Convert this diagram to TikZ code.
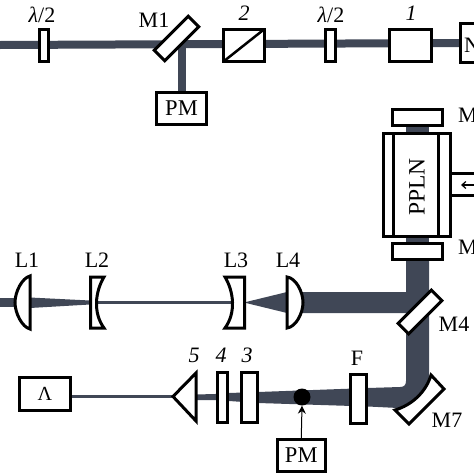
\documentclass[tikz,border=0pt]{standalone}
\usepackage{fontspec}
\setmainfont{Liberation Serif}
\usetikzlibrary{backgrounds,arrows.meta}
\definecolor{beamc}{HTML}{404756}
\tikzset{
 x=1pt,y=-1pt,
 bx/.style={draw=black,line width=3pt,fill=white,inner sep=0pt,outer sep=0pt,font=\fontsize{22.5}{22.5}\selectfont},
 optic/.style={draw=black,line width=3pt,fill=white,line join=miter},
 lbl/.style={inner sep=0pt,font=\fontsize{22}{22}\selectfont,text=black},
 num/.style={lbl,font=\fontsize{22}{22}\selectfont\itshape},
 beam/.style={draw=beamc,line cap=butt},
 beamfill/.style={fill=beamc},
}
\newcommand{\bxn}[6]{\node[bx,minimum width={(#4-#2-3)*1pt},minimum height={(#5-#3-3)*1pt}] (#1) at ({(#2+#4)/2},{(#3+#5)/2}) {#6};}
\begin{document}
\begin{tikzpicture}
\useasboundingbox (0,0) rectangle (474,474);
% top row
\bxn{wpa}{37.5}{27.5}{50}{63}{}
\bxn{cube}{222}{27.5}{266}{63}{}
\draw[line width=2.5pt] (cube.south west) -- (cube.north east);
\bxn{wpb}{324}{27.5}{337}{63}{}
\bxn{one}{388}{27.5}{433}{63}{}
\bxn{nbox}{458.5}{22}{490}{64}{}
\node[lbl] (ntext) at (472,45) {N};
\node[bx,rotate=45,minimum width=48pt,minimum height=15pt] (mone) at (176.5,38.5) {};
\bxn{pma}{155}{91}{208}{126}{PM}
\coordinate (start) at (0,45);
\coordinate (mtap) at (181.5,45);
% PPLN
\bxn{crystal}{381.5}{131.5}{451.5}{238}{}
\draw[line width=3pt] (393.5,132) -- (393.5,238) (438.5,132) -- (438.5,238);
\node[lbl,rotate=90,font=\fontsize{23.5}{23.5}\selectfont] (ppln) at (417,187) {PPLN};
\bxn{mtop}{390.5}{107.5}{443.5}{127}{}
\bxn{mbot}{390.5}{241.5}{443.5}{261}{}
\coordinate (portend) at (474,173);
\coordinate (portendb) at (474,195);
\coordinate (porta) at (451,173);
\coordinate (portb) at (451,195);
\draw[line width=3pt] (porta) -- (portend) (portb) -- (portendb);
\coordinate (arrowa) at (474,185);
\coordinate (arrowb) at (461,185);
\draw[line width=1.2pt,-{Straight Barb[length=4pt,width=7pt]}] (arrowa) -- (arrowb);
\node[lbl] (mlabelt) at (468,115) {M};
\node[lbl] (mlabelb) at (468,247) {M};
% lenses
\draw[optic] (30,276) -- (30,329) .. controls (22,327) and (15,313) .. (15,302.5) .. controls (15,292) and (22,278) .. (30,276) -- cycle;
\draw[optic] (90.5,277) -- (104,277) .. controls (95,292) and (93,313) .. (104,328) -- (90.5,328) -- cycle;
\draw[optic] (244.5,277) -- (225,277) .. controls (234,292) and (236,313) .. (225,328) -- (244.5,328) -- cycle;
\draw[optic] (287,277) -- (287,328) .. controls (296,327) and (303,313) .. (303,302.5) .. controls (303,292) and (296,278) .. (287,277) -- cycle;
\node[bx,rotate=45,minimum width=47pt,minimum height=15pt] (mfour) at (420,312) {};
% M7
\draw[optic] (431,375) -- (444,389) -- (409,424) -- (395,410) .. controls (412,405) and (426,392) .. (431,375) -- cycle;
% lower row
\bxn{lambda}{18}{376}{72}{412}{\raisebox{-1pt}{\fontsize{20}{20}\selectfont Λ}}
\draw[optic] (173,396.5) -- (196,373) -- (196,421) -- cycle;
\coordinate (prism) at (172,396.5);
\bxn{four}{215.5}{370.5}{229}{423.5}{}
\bxn{three}{239.5}{370.5}{258.5}{423.5}{}
\bxn{filt}{348.5}{372.5}{368}{424.5}{}
\node[circle,fill=black,minimum size=17pt,inner sep=0pt] (dot) at (302,397) {};
\bxn{pmb}{275.5}{437.5}{327}{473}{PM}
\draw[line width=1pt,-{Stealth[length=8pt,width=8pt]}] (pmb.north) -- (dot.south);
% labels
\node[lbl] (la) at (42,15) {\textit{λ}/2};
\node[lbl] (lb) at (331,15) {\textit{λ}/2};
\node[lbl] (mlab) at (154,20) {M1};
\node[num] (ntwo) at (244,13) {2};
\node[num] (none) at (411,13) {1};
\node[lbl] (lone) at (27,260) {L1};
\node[lbl] (ltwo) at (97,260) {L2};
\node[lbl] (lthree) at (236,260) {L3};
\node[lbl] (lfour) at (288,260) {L4};
\node[lbl] (mf) at (454,324) {M4};
\node[lbl] (ms) at (447,420) {M7};
\node[num] (nfive) at (194,355) {5};
\node[num] (nfour) at (221,355) {4};
\node[num] (nthree) at (247,355) {3};
\node[lbl] (fl) at (357,358) {F};
% beams
\begin{pgfonlayer}{background}
\draw[beam,line width=8pt] (start) -- (nbox.west);
\draw[beam,line width=8pt] (mtap) -- (pma);
\draw[beam,line width=23pt] (mtop) -- (mbot);
\fill[beamfill] (0,298) -- (15,298) -- (15,307) -- (0,307) -- cycle;
\fill[beamfill] (30,297.5) -- (90,300.5) -- (90,304.5) -- (30,308) -- cycle;
\draw[beam,line width=3pt] (96,302.5) -- (232,302.5);
\fill[beamfill] (244,302.5) -- (287,292) -- (287,313) -- cycle;
\fill[beamfill] (300,292) -- (406,292) -- (406,246) -- (429,246) -- (429,380) -- (429,392) -- (410,408) -- (398,408) -- (368,406.5) -- (258,403) -- (229,401) -- (215,400) -- (196,400) -- (196,394.5) -- (215,394) -- (229,393) -- (258,392) -- (368,388) -- (400,387) .. controls (404,387) and (406,385) .. (406,381) -- (406,313) -- (300,313) -- cycle;
\draw[beam,line width=3pt] (lambda.east |- prism) -- (prism);
\end{pgfonlayer}
\end{tikzpicture}
\end{document}
